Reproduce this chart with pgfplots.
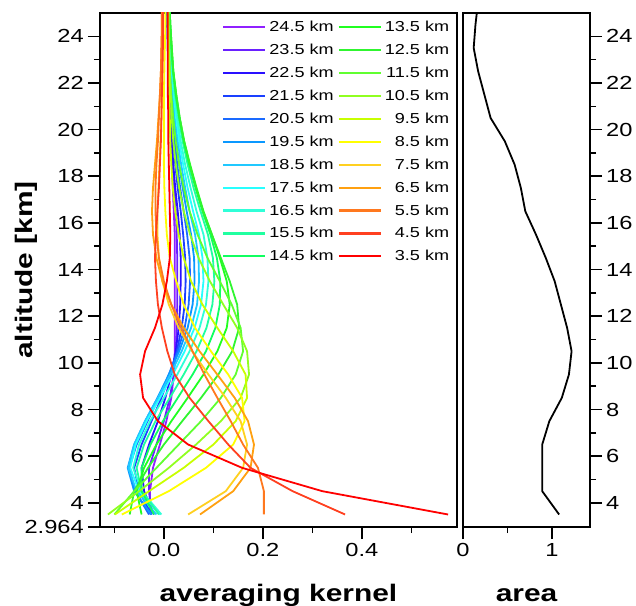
\documentclass[border=0pt]{standalone}
\usepackage{pgfplots}
\pgfplotsset{compat=1.18}
\usepackage{pgfplotstable}
\usepackage{fontspec}
\setmainfont{Liberation Sans}[FakeStretch=1.25]
\usetikzlibrary{calc}

\definecolor{c245}{RGB}{144,32,255}
\definecolor{c235}{RGB}{106,32,255}
\definecolor{c225}{RGB}{42,16,255}
\definecolor{c215}{RGB}{26,64,255}
\definecolor{c205}{RGB}{26,106,255}
\definecolor{c195}{RGB}{10,152,255}
\definecolor{c185}{RGB}{32,200,255}
\definecolor{c175}{RGB}{40,255,255}
\definecolor{c165}{RGB}{48,255,216}
\definecolor{c155}{RGB}{32,255,160}
\definecolor{c145}{RGB}{16,255,96}
\definecolor{c135}{RGB}{32,255,32}
\definecolor{c125}{RGB}{48,245,48}
\definecolor{c115}{RGB}{96,255,48}
\definecolor{c105}{RGB}{144,255,32}
\definecolor{c95}{RGB}{200,255,0}
\definecolor{c85}{RGB}{255,255,0}
\definecolor{c75}{RGB}{255,208,32}
\definecolor{c65}{RGB}{255,160,16}
\definecolor{c55}{RGB}{255,120,30}
\definecolor{c45}{RGB}{255,64,32}
\definecolor{c35}{RGB}{255,0,0}

\pgfplotstableread{
alt a245 a235 a225 a215 a205 a195 a185 a175 a165 a155 a145 a135 a125 a115 a105 a95 a85 a75 a65 a55 a45 a35
3.5 -0.028 -0.025 -0.020 -0.025 -0.030 -0.025 -0.015 -0.008 -0.005 -0.010 -0.020 -0.045 -0.069 -0.100 -0.113 -0.099 -0.085 0.049 0.073 0.202 0.366 0.574
4.5 -0.028 -0.030 -0.040 -0.050 -0.058 -0.060 -0.055 -0.050 -0.045 -0.045 -0.045 -0.055 -0.060 -0.060 -0.050 -0.030 0.010 0.125 0.140 0.202 0.260 0.320
5.5 -0.022 -0.030 -0.045 -0.060 -0.070 -0.073 -0.072 -0.068 -0.062 -0.055 -0.045 -0.040 -0.032 -0.015 0.010 0.040 0.085 0.160 0.175 0.190 0.175 0.158
6.5 -0.008 -0.015 -0.030 -0.045 -0.055 -0.060 -0.060 -0.057 -0.050 -0.040 -0.027 -0.015 0.000 0.030 0.065 0.100 0.140 0.168 0.182 0.160 0.130 0.049
7.5 0.005 0.000 -0.012 -0.025 -0.033 -0.038 -0.038 -0.035 -0.028 -0.017 -0.002 0.015 0.037 0.075 0.115 0.145 0.163 0.155 0.170 0.135 0.090 -0.012
8.5 0.015 0.012 0.003 -0.005 -0.010 -0.013 -0.012 -0.008 0.000 0.012 0.028 0.048 0.075 0.115 0.155 0.168 0.158 0.125 0.143 0.108 0.052 -0.042
9.5 0.020 0.020 0.015 0.012 0.010 0.010 0.013 0.018 0.027 0.040 0.058 0.080 0.110 0.145 0.172 0.165 0.130 0.090 0.108 0.082 0.022 -0.048
10.5 0.022 0.024 0.024 0.026 0.028 0.031 0.036 0.042 0.052 0.066 0.085 0.108 0.138 0.160 0.168 0.140 0.095 0.057 0.072 0.058 0.007 -0.038
11.5 0.022 0.026 0.030 0.036 0.042 0.048 0.055 0.062 0.072 0.086 0.104 0.127 0.152 0.155 0.148 0.108 0.063 0.030 0.040 0.035 -0.004 -0.018
12.5 0.022 0.027 0.033 0.042 0.050 0.058 0.067 0.075 0.085 0.098 0.113 0.133 0.148 0.137 0.120 0.078 0.040 0.010 0.015 0.015 -0.012 -0.003
13.5 0.022 0.027 0.034 0.044 0.053 0.062 0.071 0.080 0.090 0.102 0.114 0.127 0.133 0.113 0.093 0.055 0.025 -0.003 -0.003 0.000 -0.016 0.006
14.5 0.022 0.027 0.034 0.043 0.052 0.061 0.070 0.078 0.088 0.099 0.107 0.113 0.115 0.088 0.070 0.040 0.012 -0.010 -0.015 -0.010 -0.018 0.012
15.5 0.022 0.026 0.032 0.039 0.047 0.055 0.063 0.071 0.080 0.089 0.094 0.097 0.097 0.068 0.053 0.030 0.006 -0.013 -0.022 -0.015 -0.016 0.013
16.5 0.020 0.024 0.028 0.034 0.040 0.046 0.052 0.059 0.066 0.074 0.078 0.080 0.079 0.052 0.040 0.023 0.003 -0.013 -0.024 -0.017 -0.013 0.012
17.5 0.018 0.021 0.023 0.028 0.033 0.038 0.043 0.048 0.054 0.060 0.064 0.066 0.065 0.040 0.031 0.018 0.001 -0.011 -0.022 -0.017 -0.010 0.011
18.5 0.016 0.018 0.019 0.023 0.027 0.031 0.035 0.039 0.043 0.048 0.051 0.053 0.052 0.031 0.024 0.015 0.000 -0.009 -0.018 -0.015 -0.008 0.010
19.5 0.014 0.015 0.016 0.019 0.022 0.025 0.028 0.031 0.034 0.038 0.040 0.041 0.041 0.024 0.019 0.013 0.000 -0.007 -0.014 -0.012 -0.006 0.009
20.5 0.012 0.013 0.013 0.015 0.018 0.020 0.022 0.025 0.027 0.030 0.031 0.032 0.032 0.019 0.016 0.012 0.000 -0.005 -0.011 -0.010 -0.005 0.009
21.5 0.010 0.011 0.011 0.012 0.014 0.016 0.018 0.020 0.021 0.023 0.024 0.025 0.025 0.015 0.014 0.011 0.000 -0.004 -0.008 -0.008 -0.004 0.008
22.5 0.009 0.010 0.009 0.010 0.012 0.013 0.014 0.016 0.017 0.018 0.019 0.019 0.019 0.012 0.012 0.010 0.001 -0.003 -0.006 -0.006 -0.003 0.008
23.5 0.008 0.009 0.008 0.009 0.010 0.011 0.012 0.013 0.014 0.015 0.015 0.016 0.016 0.010 0.011 0.009 0.002 -0.002 -0.005 -0.005 -0.002 0.008
24.5 0.007 0.008 0.007 0.008 0.009 0.010 0.010 0.011 0.012 0.012 0.013 0.013 0.013 0.009 0.010 0.008 0.003 -0.002 -0.004 -0.004 -0.002 0.008
25.5 0.006 0.007 0.006 0.007 0.008 0.009 0.009 0.010 0.010 0.011 0.011 0.011 0.011 0.008 0.010 0.008 0.003 -0.002 -0.004 -0.004 -0.002 0.008
}\kernels

\pgfplotstableread{
alt area
3.5 1.08
4.5 0.89
5.5 0.89
6.5 0.89
7.5 0.97
8.5 1.11
9.5 1.19
10.5 1.22
11.5 1.17
12.5 1.10
13.5 1.03
14.5 0.93
15.5 0.82
16.5 0.70
17.5 0.65
18.5 0.58
19.5 0.47
20.5 0.31
21.5 0.24
22.5 0.17
23.5 0.12
24.5 0.14
25.5 0.17
}\areadata

\begin{document}
\begin{tikzpicture}
\pgfplotsset{
  common/.style={
    scale only axis, height=514bp,
    ymin=2.964, ymax=25,
    line width=1.8pt,
    axis line style={line width=1.8pt},
    tick align=outside,
    major tick length=12bp, minor tick length=6bp,
    every tick/.style={black, line width=1.6pt},
    ticklabel style={font=\fontsize{19}{19}\selectfont},
    /pgf/number format/assume math mode=true,
    label style={font=\fontsize{24}{24}\selectfont\bfseries},
    minor ytick={5,7,...,23},
  },
  kern/.style={line width=1.8bp, forget plot},
}
\begin{axis}[common, name=L, width=357bp,
  xmin=-0.129, xmax=0.592,
  xtick={0,0.2,0.4}, xticklabels={0.0,0.2,0.4},
  minor xtick={-0.1,0.1,0.3,0.5},
  ytick={2.964,4,6,8,10,12,14,16,18,20,22,24},
  yticklabels={2.964,4,6,8,10,12,14,16,18,20,22,24},
  tick pos=left,
  xlabel={averaging kernel}, ylabel={altitude [km]},
  xlabel style={at={(axis description cs:0.5,-0.1459)}, anchor=base},
  ylabel style={at={(axis description cs:-0.19,0.5)}, anchor=base},
  legend columns=2, legend cell align=right,
  legend image code/.code={\draw[#1, line width=2.2bp] (0bp,0bp) -- (42bp,0bp);},
  legend style={at={(1,1)}, anchor=north east, xshift=-4bp, yshift=-5bp,
    draw=none, fill=none, inner sep=0pt, font=\fontsize{14.5}{14.5}\selectfont,
    row sep=5.9bp, nodes={text height=10bp, text depth=1bp, inner sep=3bp},
    /tikz/every even column/.append style={column sep=1bp}},
]
\addplot[c245, kern] table[x=a245, y=alt]{\kernels};
\addplot[c235, kern] table[x=a235, y=alt]{\kernels};
\addplot[c225, kern] table[x=a225, y=alt]{\kernels};
\addplot[c215, kern] table[x=a215, y=alt]{\kernels};
\addplot[c205, kern] table[x=a205, y=alt]{\kernels};
\addplot[c195, kern] table[x=a195, y=alt]{\kernels};
\addplot[c185, kern] table[x=a185, y=alt]{\kernels};
\addplot[c175, kern] table[x=a175, y=alt]{\kernels};
\addplot[c165, kern] table[x=a165, y=alt]{\kernels};
\addplot[c155, kern] table[x=a155, y=alt]{\kernels};
\addplot[c145, kern] table[x=a145, y=alt]{\kernels};
\addplot[c135, kern] table[x=a135, y=alt]{\kernels};
\addplot[c125, kern] table[x=a125, y=alt]{\kernels};
\addplot[c115, kern] table[x=a115, y=alt]{\kernels};
\addplot[c105, kern] table[x=a105, y=alt]{\kernels};
\addplot[c95, kern] table[x=a95, y=alt]{\kernels};
\addplot[c85, kern] table[x=a85, y=alt]{\kernels};
\addplot[c75, kern] table[x=a75, y=alt]{\kernels};
\addplot[c65, kern] table[x=a65, y=alt]{\kernels};
\addplot[c55, kern] table[x=a55, y=alt]{\kernels};
\addplot[c45, kern] table[x=a45, y=alt]{\kernels};
\addplot[c35, kern] table[x=a35, y=alt]{\kernels};
\addlegendimage{c245}\addlegendentry{24.5 km}
\addlegendimage{c135}\addlegendentry{13.5 km}
\addlegendimage{c235}\addlegendentry{23.5 km}
\addlegendimage{c125}\addlegendentry{12.5 km}
\addlegendimage{c225}\addlegendentry{22.5 km}
\addlegendimage{c115}\addlegendentry{11.5 km}
\addlegendimage{c215}\addlegendentry{21.5 km}
\addlegendimage{c105}\addlegendentry{10.5 km}
\addlegendimage{c205}\addlegendentry{20.5 km}
\addlegendimage{c95}\addlegendentry{9.5 km}
\addlegendimage{c195}\addlegendentry{19.5 km}
\addlegendimage{c85}\addlegendentry{8.5 km}
\addlegendimage{c185}\addlegendentry{18.5 km}
\addlegendimage{c75}\addlegendentry{7.5 km}
\addlegendimage{c175}\addlegendentry{17.5 km}
\addlegendimage{c65}\addlegendentry{6.5 km}
\addlegendimage{c165}\addlegendentry{16.5 km}
\addlegendimage{c55}\addlegendentry{5.5 km}
\addlegendimage{c155}\addlegendentry{15.5 km}
\addlegendimage{c45}\addlegendentry{4.5 km}
\addlegendimage{c145}\addlegendentry{14.5 km}
\addlegendimage{c35}\addlegendentry{3.5 km}
\end{axis}
\begin{axis}[common, name=R, at={($(L.south east)+(6bp,0)$)}, anchor=south west, width=127bp,
  xmin=0, xmax=1.427, xtick={0,1}, minor xtick={0.5},
  ytick={4,6,...,24},
  xtick pos=left, ytick pos=right, yticklabel pos=right,
  xlabel={area},
  xlabel style={at={(axis description cs:0.5,-0.1459)}, anchor=base},
]
\addplot[black, line width=1.8bp] table[x=area, y=alt]{\areadata};
\end{axis}
\pgfresetboundingbox
\path ($(L.south west)+(-100bp,-79bp)$) rectangle ($(L.south west)+(536bp,527bp)$);
\end{tikzpicture}
\end{document}
